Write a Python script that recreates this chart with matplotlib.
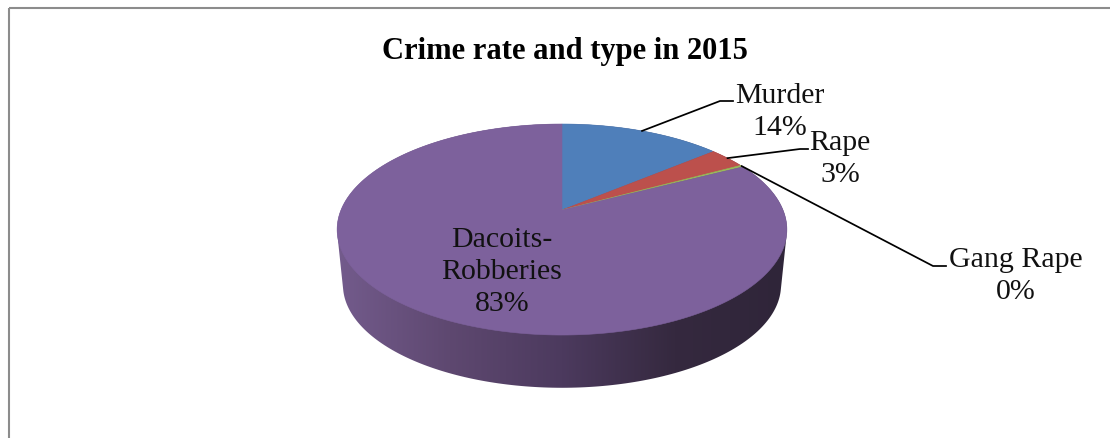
import numpy as np
import matplotlib
matplotlib.use("Agg")
import matplotlib.pyplot as plt
from matplotlib.colors import LinearSegmentedColormap
from matplotlib.patches import Polygon, Rectangle

title = "Crime rate and type in 2015"
categories = ["Murder", "Rape", "Gang Rape", "Dacoits-\nRobberies"]
shares = [13.9, 3.2, 0.3, 82.6]
colors = ["#4F7FBA", "#BC504C", "#9BBB59", "#7D619C"]

# Pie geometry in figure pixels
CX, APEX_Y = 562.0, 211.0
TILT = 0.185          # perspective strength
SCALE_X, SCALE_Y = 221.0, 101.9
DEPTH = 56.0
FONT = "Liberation Serif"

# Label placement: text centre, then elbow and end of the leader line
label_pos = [(780, 112), (840, 159), (1016, 276), (502, 272)]
leader_elbow = [(720, 102), (800, 150), (933, 267), None]
leader_end = [(733, 102), (808, 150), (946, 267), None]


def project(theta, scale=1.0, dy=0.0):
    """Map clockwise-from-top disc angles to pixels with a perspective tilt."""
    u, v = np.sin(theta), np.cos(theta)
    den = 1 + TILT * v
    return np.column_stack((CX + scale * SCALE_X * u / den,
                            APEX_Y + dy - scale * SCALE_Y * v / den))


def convex_hull(points):
    pts = sorted(map(tuple, points))

    def half(seq):
        out = []
        for p in seq:
            while len(out) > 1 and ((out[-1][0] - out[-2][0]) * (p[1] - out[-2][1])
                                    - (out[-1][1] - out[-2][1]) * (p[0] - out[-2][0])) <= 0:
                out.pop()
            out.append(p)
        return out[:-1]

    return np.array(half(pts) + half(pts[::-1]))


fig = plt.figure(figsize=(11.10, 4.39), dpi=100)
ax = fig.add_axes([0, 0, 1, 1])
ax.axis("off")

# Chart frame running off the right and bottom edges
ax.add_patch(Rectangle((8.5, 8.5), 1200, 600, fill=False, ec="#8C8C8C", lw=1.5))

# Side wall: gradient clipped to the hull of the top and bottom rims
ring = np.linspace(0, 2 * np.pi, 361)[:-1]
hull = convex_hull(np.vstack((project(ring), project(ring, 0.974, DEPTH))))
wall_cmap = LinearSegmentedColormap.from_list(
    "wall", ["#735B8C", "#5E4870", "#4C3A5E", "#35293F", "#2F2539"])
wall_img = ax.imshow(np.linspace(0, 1, 256)[None, :], cmap=wall_cmap, aspect="auto",
                     extent=(337, 787, 400, 120), zorder=1)
wall_clip = Polygon(hull, transform=ax.transData, fc="none", ec="none")
ax.add_patch(wall_clip)
wall_img.set_clip_path(wall_clip)

# Top face wedges, clockwise from twelve o'clock
edges = np.cumsum([0] + shares) / sum(shares) * 2 * np.pi
mids = (edges[:-1] + edges[1:]) / 2
apex = project(np.array([np.pi / 2]), 0.0)
for start, stop, color in zip(edges[:-1], edges[1:], colors):
    arc = project(np.linspace(start, stop, max(int((stop - start) * 90), 3)))
    ax.add_patch(Polygon(np.vstack((apex, arc)), closed=True, fc=color, ec=color,
                         lw=0.4, zorder=2))

# Leader lines and labels
anchors = project(mids)
for name, share, pos, anchor, elbow, end in zip(categories, shares, label_pos, anchors,
                                                leader_elbow, leader_end):
    if elbow is not None:
        xs, ys = zip(tuple(anchor), elbow, end)
        ax.plot(xs, ys, color="black", lw=1.25, zorder=3, solid_joinstyle="round")
    ax.text(pos[0], pos[1], f"{name}\n{share:.0f}%", family=FONT, fontsize=21.5,
            ha="center", va="center", linespacing=1.32, color="#111111", zorder=4)

ax.text(565, 52, title, family=FONT, fontsize=22, fontweight="bold",
        ha="center", va="center", color="black", zorder=4)

ax.set_xlim(0, 1110)
ax.set_ylim(439, 0)
fig.savefig("out.png", dpi=100)
